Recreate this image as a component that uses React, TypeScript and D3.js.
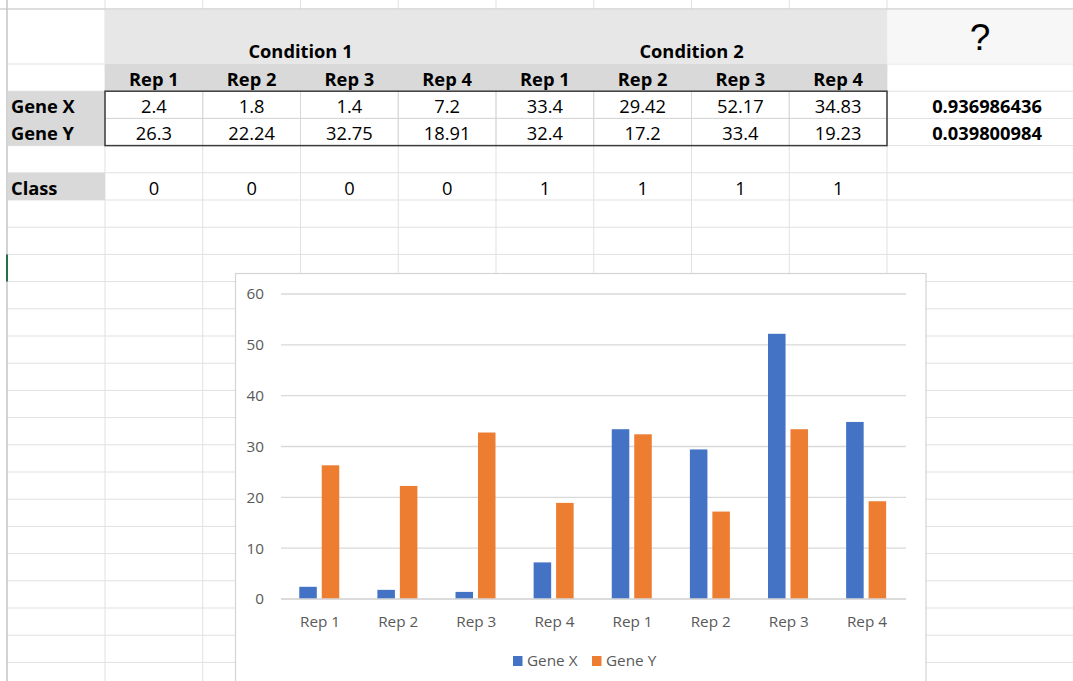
import React from "react";
import * as d3 from "d3";

// Sheet content
const conditions = ["Condition 1", "Condition 2"];
const categories = ["Rep 1", "Rep 2", "Rep 3", "Rep 4", "Rep 1", "Rep 2", "Rep 3", "Rep 4"];
const rowLabels = ["Gene X", "Gene Y"];
const geneX = [2.4, 1.8, 1.4, 7.2, 33.4, 29.42, 52.17, 34.83];
const geneY = [26.3, 22.24, 32.75, 18.91, 32.4, 17.2, 33.4, 19.23];
const classValues = [0, 0, 0, 0, 1, 1, 1, 1];
const scores = ["0.936986436", "0.039800984"];
const seriesNames = ["Gene X", "Gene Y"];
const seriesColors = ["#4472c4", "#ed7d31"];
const yTicks = [0, 10, 20, 30, 40, 50, 60];

const W = 1073;
const H = 681;

const cellFont = "'Open Sans', 'Noto Sans', sans-serif";
const chartFont = "'Open Sans', 'Noto Sans', sans-serif";
const cellSize = 18.3;
const chartSize = 15.3;

export default function App() {
  // spreadsheet geometry
  const leftEdge = 7;
  const colA = 105;
  const colW = 97.75;
  const dataCols = d3.range(8).map((i) => colA + i * colW);
  const colJ = colA + 8 * colW; // 887
  const colEdges = [leftEdge, ...dataCols, colJ];

  const top = 9;
  const row1Bottom = 64;
  const rowH = 27.2;
  const rowEdges: number[] = [top, row1Bottom];
  for (let y = row1Bottom + rowH; y < H + rowH; y += rowH) rowEdges.push(y);
  const rowBottom = (r: number) => row1Bottom + (r + 1) * rowH; // r=0 -> Rep row
  const baseline = (r: number) => rowBottom(r) - 5.5;
  const colCenter = (i: number) => dataCols[i] + colW / 2;

  // chart scales
  const plotLeft = 281;
  const plotRight = 906;
  const x0 = d3.scaleBand<number>().domain(d3.range(categories.length)).range([plotLeft, plotRight]);
  const groupW = 40;
  const x1 = d3.scaleBand<string>().domain(seriesNames).range([0, groupW]).paddingInner(0.22);
  const y = d3.scaleLinear().domain([0, 60]).range([599, 294]);
  const series = [geneX, geneY];

  const gridColor = "#e1e1e1";

  return (
    <svg
      width={W}
      height={H}
      style={{ position: "absolute", left: 0, top: 0, background: "#fff" }}
      xmlns="http://www.w3.org/2000/svg"
    >
      <rect x={0} y={0} width={W} height={H} fill="#fff" />

      {/* cell gridlines */}
      {colEdges.slice(1).map((x, i) => (
        <line key={"v" + i} x1={x} x2={x} y1={0} y2={H} stroke={gridColor} strokeWidth={1} />
      ))}
      {rowEdges.slice(1).map((yy, i) => (
        <line key={"h" + i} x1={leftEdge} x2={W} y1={yy} y2={yy} stroke={gridColor} strokeWidth={1} />
      ))}
      <line x1={0} x2={W} y1={top} y2={top} stroke="#d2d2d2" strokeWidth={1.5} />
      <line x1={leftEdge} x2={leftEdge} y1={0} y2={H} stroke="#c4c4c4" strokeWidth={1.5} />
      <line x1={leftEdge} x2={leftEdge} y1={rowEdges[8]} y2={rowEdges[9]} stroke="#217346" strokeWidth={2} />

      {/* header fills */}
      <rect x={colA} y={top + 0.75} width={colJ - colA} height={row1Bottom - top - 0.75} fill="#e7e7e7" />
      <rect x={colA} y={row1Bottom} width={colJ - colA} height={rowH} fill="#d9d9d9" />
      <rect x={colJ + 0.5} y={top + 0.75} width={W - colJ} height={row1Bottom - top - 1.25} fill="#f7f7f7" />
      <rect x={leftEdge + 0.75} y={rowBottom(0)} width={colA - leftEdge - 0.75} height={rowH * 2} fill="#d9d9d9" />
      <rect x={leftEdge + 0.75} y={rowBottom(3)} width={colA - leftEdge - 0.75} height={rowH} fill="#d9d9d9" />

      {/* data block: inner lines and outline */}
      {dataCols.slice(1).map((x, i) => (
        <line key={"dv" + i} x1={x} x2={x} y1={rowBottom(0)} y2={rowBottom(2)} stroke="#d6d6d6" />
      ))}
      <line x1={colA} x2={colJ} y1={rowBottom(1)} y2={rowBottom(1)} stroke="#d6d6d6" />
      <rect
        x={colA}
        y={rowBottom(0)}
        width={colJ - colA}
        height={rowH * 2}
        fill="none"
        stroke="#3c3c3c"
        strokeWidth={1.5}
      />

      {/* header text */}
      {conditions.map((c, i) => (
        <text
          key={c}
          x={colA + (i * 4 + 2) * colW}
          y={row1Bottom - 6}
          textAnchor="middle"
          fontFamily={cellFont}
          fontWeight={700}
          fontSize={cellSize}
          fill="#000"
        >
          {c}
        </text>
      ))}
      <text x={980} y={50} textAnchor="middle" fontFamily="'Liberation Sans', Arial, sans-serif" fontSize={37} fill="#000">
        ?
      </text>
      {categories.map((c, i) => (
        <text
          key={"rep" + i}
          x={colCenter(i)}
          y={baseline(0)}
          textAnchor="middle"
          fontFamily={cellFont}
          fontWeight={700}
          fontSize={cellSize}
          fill="#000"
        >
          {c}
        </text>
      ))}

      {/* gene rows */}
      {rowLabels.map((lab, r) => (
        <g key={lab} fontFamily={cellFont} fontSize={cellSize} fill="#000">
          <text x={11} y={baseline(r + 1)} fontWeight={700}>
            {lab}
          </text>
          {series[r].map((v, i) => (
            <text key={i} x={colCenter(i)} y={baseline(r + 1)} textAnchor="middle">
              {String(v)}
            </text>
          ))}
          <text x={987} y={baseline(r + 1)} textAnchor="middle" fontWeight={700}>
            {scores[r]}
          </text>
        </g>
      ))}

      {/* class row */}
      <g fontFamily={cellFont} fontSize={cellSize} fill="#000">
        <text x={11} y={baseline(4)} fontWeight={700}>
          Class
        </text>
        {classValues.map((v, i) => (
          <text key={i} x={colCenter(i)} y={baseline(4)} textAnchor="middle">
            {v}
          </text>
        ))}
      </g>

      {/* embedded chart */}
      <rect x={235.5} y={273.5} width={690.5} height={430} fill="#fff" stroke="#d4d4d4" strokeWidth={1.2} />
      <g fontFamily={chartFont} fontSize={chartSize} fill="#595959">
        {yTicks.map((t) => (
          <g key={t}>
            <line x1={plotLeft} x2={plotRight} y1={y(t)} y2={y(t)} stroke="#d9d9d9" strokeWidth={1.3} />
            <text x={264} y={y(t)} dy="0.35em" textAnchor="end">
              {t}
            </text>
          </g>
        ))}
        {categories.map((c, i) => {
          const gx = (x0(i) as number) + (x0.bandwidth() - groupW) / 2 - 0.8;
          return (
            <g key={"bar" + i}>
              {seriesNames.map((s, k) => (
                <rect
                  key={s}
                  x={gx + (x1(s) as number)}
                  y={y(series[k][i])}
                  width={x1.bandwidth()}
                  height={y(0) - y(series[k][i])}
                  fill={seriesColors[k]}
                />
              ))}
              <text x={(x0(i) as number) + x0.bandwidth() / 2} y={627} textAnchor="middle">
                {c}
              </text>
            </g>
          );
        })}
        <line x1={plotLeft} x2={plotRight} y1={y(0)} y2={y(0)} stroke="#d9d9d9" strokeWidth={1.3} />
        {seriesNames.map((s, k) => (
          <g key={"leg" + s} transform={`translate(${513 + k * 79},0)`}>
            <rect x={0} y={656} width={9.5} height={10} fill={seriesColors[k]} />
            <text x={14} y={665.5}>
              {s}
            </text>
          </g>
        ))}
      </g>
    </svg>
  );
}
